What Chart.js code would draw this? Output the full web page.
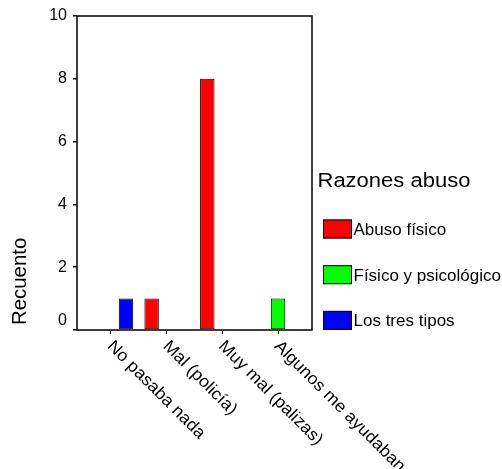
<!DOCTYPE html>
<html>
<head>
<meta charset="utf-8">
<script src="https://cdn.jsdelivr.net/npm/chart.js@4/dist/chart.umd.min.js"></script>
<style>
  html, body { margin: 0; padding: 0; background: #fff; }
  #wrap { width: 502px; height: 469px; }
</style>
</head>
<body>
<div id="wrap"><canvas id="c" width="502" height="469"></canvas></div>
<script>
// Categories on the x axis
const categories = ['No pasaba nada', 'Mal (policía)', 'Muy mal (palizas)', 'Algunos me ayudaban'];
// Counts per series (one value per category)
const abusoFisico = [0, 1, 8, 0];
const fisicoPsicologico = [0, 0, 0, 1];
const tresTipos = [1, 0, 0, 0];
const seriesNames = ['Abuso físico', 'Físico y psicológico', 'Los tres tipos'];
const seriesColors = ['#ff0000', '#00ff00', '#0000ff'];
// Value axis
const yTicks = [0, 2, 4, 6, 8, 10];
const yTitle = 'Recuento';
const legendTitle = 'Razones abuso';

const FONT = '"Liberation Sans", Arial, sans-serif';
Chart.defaults.font.family = FONT;
Chart.defaults.color = '#000';

const toPoints = arr => arr.map((v, i) => ({ x: i + 1, y: v }));

// Draws text, optionally widened horizontally
function wideText(ctx, text, x, y, stretch, angle) {
  ctx.save();
  ctx.translate(x, y);
  if (angle) ctx.rotate(angle);
  ctx.scale(stretch, 1);
  ctx.fillText(text, 0, 0);
  ctx.restore();
}

// Box around the plotting area
const frame = {
  id: 'frame',
  beforeDatasetsDraw(chart) {
    const { ctx, chartArea: a } = chart;
    ctx.save();
    ctx.strokeStyle = '#000';
    ctx.lineWidth = 1.5;
    ctx.strokeRect(a.left, a.top, a.right - a.left, a.bottom - a.top);
    ctx.restore();
  }
};

// Category names slanted downward to the right, starting at each tick,
// plus the value-axis title set near the bottom of the axis
const axisText = {
  id: 'axisText',
  afterDraw(chart) {
    const sx = chart.scales.x;
    const ctx = chart.ctx;
    ctx.save();
    ctx.fillStyle = '#000';
    ctx.font = '17px ' + FONT;
    ctx.textAlign = 'left';
    ctx.textBaseline = 'alphabetic';
    sx.ticks.forEach(t => {
      const px = sx.getPixelForValue(t.value);
      wideText(ctx, categories[t.value - 1], px - 4.5, sx.top + 17, 1.05, Math.PI / 4);
    });
    ctx.font = '20px ' + FONT;
    wideText(ctx, yTitle, 26, chart.chartArea.bottom - 5, 1.02, -Math.PI / 2);
    ctx.restore();
  }
};

// Legend block on the right with a title and colour swatches
const sideLegend = {
  id: 'sideLegend',
  afterDraw(chart) {
    const ctx = chart.ctx;
    const base = chart.chartArea.right;
    ctx.save();
    ctx.fillStyle = '#000';
    ctx.textAlign = 'left';
    ctx.textBaseline = 'alphabetic';
    ctx.font = '20px ' + FONT;
    wideText(ctx, legendTitle, base + 5.5, 187, 1.1, 0);
    ctx.font = '17px ' + FONT;
    chart.data.datasets.forEach((ds, i) => {
      const top = 219.5 + i * 45.7;
      ctx.fillStyle = ds.backgroundColor;
      ctx.fillRect(base + 11, top, 29, 19);
      ctx.strokeStyle = '#000';
      ctx.lineWidth = 1;
      ctx.strokeRect(base + 11.5, top + 0.5, 28, 18);
      ctx.fillStyle = '#000';
      ctx.fillText(ds.label, base + 41.5, top + 15.5);
    });
    ctx.restore();
  }
};

new Chart(document.getElementById('c'), {
  type: 'bar',
  data: {
    datasets: [abusoFisico, fisicoPsicologico, tresTipos].map((vals, i) => ({
      label: seriesNames[i],
      data: toPoints(vals),
      backgroundColor: seriesColors[i],
      borderColor: '#000',
      borderWidth: 1,
      borderSkipped: false,
      categoryPercentage: 0.81,
      barPercentage: 0.96
    }))
  },
  options: {
    responsive: false,
    animation: false,
    layout: { padding: { left: 0, top: 16, right: 190, bottom: 135 } },
    plugins: { legend: { display: false }, tooltip: { enabled: false } },
    scales: {
      x: {
        type: 'linear',
        min: 0.39,
        max: 4.61,
        offset: false,
        afterBuildTicks: s => { s.ticks = categories.map((_, i) => ({ value: i + 1 })); },
        border: { display: false },
        grid: { offset: false, drawOnChartArea: false, drawTicks: true, tickLength: 4, color: '#000', lineWidth: 1 },
        ticks: { display: false }
      },
      y: {
        min: 0,
        max: 10,
        afterBuildTicks: s => { s.ticks = yTicks.map(v => ({ value: v })); },
        afterFit: s => { s.width = 77; },
        border: { display: false },
        grid: { drawOnChartArea: false, drawTicks: true, tickLength: 4, color: '#000', lineWidth: 1.5 },
        ticks: {
          padding: 6,
          color: '#000',
          font: { size: 16, lineHeight: 1.15 },
          callback: v => (v === 0 ? ['0', ''] : String(v))
        },
        title: { display: false }
      }
    }
  },
  plugins: [frame, axisText, sideLegend]
});
</script>
</body>
</html>
